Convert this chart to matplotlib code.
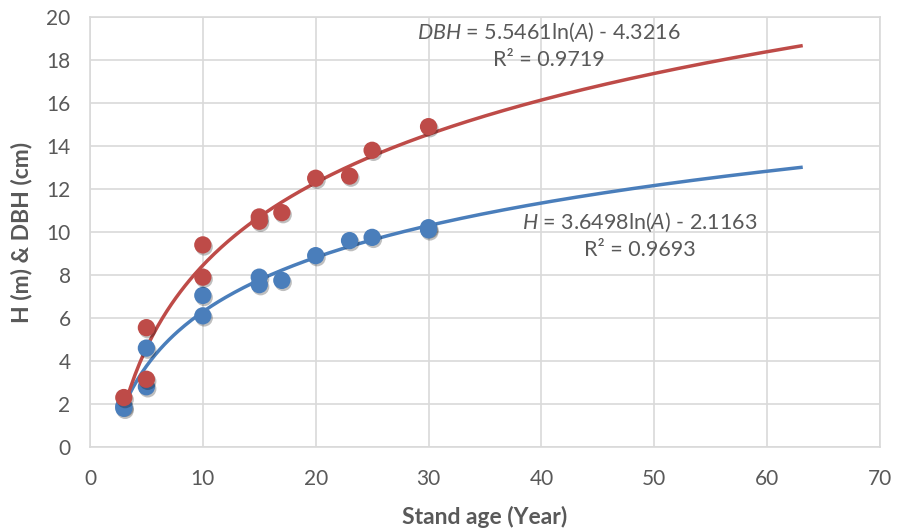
import numpy as np
import matplotlib
matplotlib.use("Agg")
import matplotlib.pyplot as plt
import matplotlib.patheffects as pe

# data
age_h = [3, 3, 5, 5, 10, 10, 15, 15, 17, 20, 23, 25, 30, 30]
h_vals = [1.9, 1.8, 4.6, 2.8, 7.05, 6.1, 7.9, 7.55, 7.75, 8.9, 9.6, 9.75, 10.1, 10.2]
age_dbh = [3, 5, 5, 10, 10, 15, 15, 17, 20, 23, 25, 30]
dbh_vals = [2.3, 5.55, 3.15, 9.4, 7.9, 10.7, 10.5, 10.9, 12.5, 12.6, 13.8, 14.9]

# log trendline coefficients (y = a*ln(A) + b)
h_coef = (3.6498, -2.1163)
dbh_coef = (5.5461, -4.3216)
h_r2 = 0.9693
dbh_r2 = 0.9719
trend_end = 63

blue = "#4A7EBB"
red = "#BE4B48"
grey = "#595959"

plt.rcParams["font.family"] = ["Lato", "DejaVu Sans"]
plt.rcParams["mathtext.fontset"] = "custom"
plt.rcParams["mathtext.rm"] = "Lato"
plt.rcParams["mathtext.it"] = "Lato:italic"

fig = plt.figure(figsize=(9.05, 5.31), dpi=100)
ax = fig.add_axes([0.0994, 0.1582, 0.8730, 0.8098])

xs = np.linspace(min(age_h), trend_end, 300)
ax.plot(xs, h_coef[0] * np.log(xs) + h_coef[1], color=blue, lw=2.5, zorder=3)
xs = np.linspace(min(age_dbh), trend_end, 300)
ax.plot(xs, dbh_coef[0] * np.log(xs) + dbh_coef[1], color=red, lw=2.5, zorder=3)

shadow = [pe.SimplePatchShadow(offset=(1, -1.5), shadow_rgbFace="black", alpha=0.25), pe.Normal()]
ax.scatter(age_h, h_vals, s=155, color=blue, edgecolor="none", zorder=4, path_effects=shadow)
ax.scatter(age_dbh, dbh_vals, s=155, color=red, edgecolor="none", zorder=5, path_effects=shadow)

ax.set_xlim(0, 70)
ax.set_ylim(0, 20)
ax.set_xticks(range(0, 71, 10))
ax.set_yticks(range(0, 21, 2))
ax.grid(True, color="#D9D9D9", lw=1.2, zorder=0)
ax.set_axisbelow(True)
for s in ax.spines.values():
    s.set_color("#D9D9D9")
    s.set_linewidth(1.2)
ax.tick_params(length=0, labelsize=15, labelcolor=grey)
ax.tick_params(axis="x", pad=16)
ax.tick_params(axis="y", pad=14)

ax.set_xlabel("Stand age (Year)", fontsize=16.5, fontweight="bold", color=grey, labelpad=12)
ax.set_ylabel("H (m) & DBH (cm)", fontsize=16.5, fontweight="bold", color=grey, labelpad=10)

ax.text(40.7, 19.3, "$\\mathit{DBH}$ = %.4fln($\\mathit{A}$) - %.4f" % (dbh_coef[0], -dbh_coef[1]),
        fontsize=15.5, color=grey, ha="center", va="center")
ax.text(40.7, 18.0, "R² = %.4f" % dbh_r2, fontsize=15.5, color=grey, ha="center", va="center")
ax.text(48.7, 10.45, "$\\mathit{H}$ = %.4fln($\\mathit{A}$) - %.4f" % (h_coef[0], -h_coef[1]),
        fontsize=15.5, color=grey, ha="center", va="center")
ax.text(48.7, 9.15, "R² = %.4f" % h_r2, fontsize=15.5, color=grey, ha="center", va="center")

fig.savefig("out.png", dpi=100)
